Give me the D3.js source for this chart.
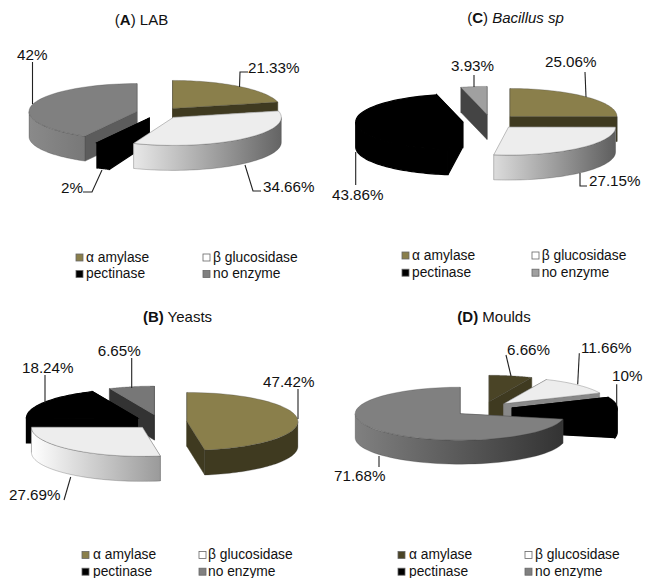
<!DOCTYPE html>
<html>
<head>
<meta charset="utf-8">
<script src="https://cdn.jsdelivr.net/npm/d3@7"></script>
<style>
  html, body { margin: 0; padding: 0; background: #fff; }
  svg { display: block; }
  text { font-family: "Liberation Sans", Arial, sans-serif; fill: #111; }
</style>
</head>
<body>
<svg id="chart" width="649" height="578"></svg>
<script>
// Enzyme categories, shared by all four panels
const enzymes = ["α amylase", "β glucosidase", "pectinase", "no enzyme"];

// Share of isolates per enzyme (%)
const labValues = [21.33, 34.66, 2, 42];
const bacillusValues = [25.06, 27.15, 43.86, 3.93];
const yeastValues = [47.42, 27.69, 18.24, 6.65];
const mouldValues = [6.66, 11.66, 10, 71.68];

// Printed data labels
const labLabels = ["21.33%", "34.66%", "2%", "42%"];
const bacillusLabels = ["25.06%", "27.15%", "43.86%", "3.93%"];
const yeastLabels = ["47.42%", "27.69%", "18.24%", "6.65%"];
const mouldLabels = ["6.66%", "11.66%", "10%", "71.68%"];

const KHAKI = "#8a7f4b", OLIVE = "#3f3a20", PALE = "#ededed", GREY = "#808080";

// Panel geometry and styling
const panels = [
  {
    bold: "A", boldParens: false, name: " LAB", titleX: 141.5, titleY: 25,
    values: labValues, labels: labLabels,
    cx: 158.7, cy: 113, rx: 108, ry: 28, depth: 25, explode: 22.4,
    order: [3, 0, 2, 1],
    top: [KHAKI, PALE, "#000", GREY],
    side: [OLIVE, "#e6e6e6", "#000", "#5c5c5c"],
    wall: [[OLIVE, OLIVE], ["#e8e8e8", "#646464"], ["#000", "#000"], ["#8a8a8a", "#787878"]],
    labelPos: [[248, 73], [263, 191.5], [61, 193], [17, 59.5]],
    leaders: [
      [[248, 72], [240, 72], [239.5, 87]],
      [[245, 165], [253, 191], [261, 191]],
      [[102, 170], [92, 192], [83, 192]],
      [[32.5, 62], [32.5, 104]]
    ],
    legend: { x1: 76, x2: 203, text1: 86, text2: 213, y1: 261.5, y2: 278,
              colors: [KHAKI, "#fff", "#000", GREY] }
  },
  {
    bold: "C", boldParens: false, name: null, italic: "Bacillus sp", titleX: 515.5, titleY: 23,
    values: bacillusValues, labels: bacillusLabels,
    cx: 490.4, cy: 121.6, rx: 107, ry: 28, depth: 25, explode: 27.7,
    order: [3, 0, 2, 1],
    top: [KHAKI, PALE, "#000", "#a0a0a0"],
    side: [OLIVE, "#e6e6e6", "#000", "#444"],
    wall: [[OLIVE, OLIVE], ["#dcdcdc", "#5e5e5e"], ["#000", "#000"], ["#444", "#444"]],
    labelPos: [[545, 67], [589, 186], [332, 200], [451, 71]],
    leaders: [
      [[585, 72], [586, 97]],
      [[580, 173], [580, 186], [587, 186]],
      [[355.7, 152], [355.7, 185]],
      [[474, 75], [474, 87]]
    ],
    legend: { x1: 402, x2: 532, text1: 412, text2: 541.7, y1: 259.5, y2: 276.7,
              colors: [KHAKI, "#fff", "#000", "#a0a0a0"] }
  },
  {
    bold: "B", boldParens: true, name: " Yeasts", titleX: 177.5, titleY: 321.7,
    values: yeastValues, labels: yeastLabels,
    cx: 160, cy: 422, rx: 111, ry: 29, depth: 25, explode: 27,
    order: [3, 2, 0, 1],
    top: [KHAKI, PALE, "#000", "#777"],
    side: [OLIVE, "#a0a0a0", "#000", "#333"],
    wall: [[OLIVE, OLIVE], ["#ffffff", "#9a9a9a"], ["#000", "#000"], ["#333", "#333"]],
    labelPos: [[263, 386.7], [9, 500], [22, 372.7], [97.7, 356]],
    leaders: [
      [[298, 389], [298, 419]],
      [[70.7, 477], [64, 500]],
      [[45, 375], [45, 403]],
      [[131.7, 358], [131.7, 388]]
    ],
    legend: { x1: 82, x2: 199, text1: 93, text2: 208, y1: 559, y2: 575.7,
              colors: [KHAKI, "#fff", "#000", GREY] }
  },
  {
    bold: "D", boldParens: true, name: " Moulds", titleX: 494, titleY: 322,
    values: mouldValues, labels: mouldLabels,
    cx: 483, cy: 409, rx: 105, ry: 26.5, depth: 24, explode: 29.4,
    order: [0, 1, 2, 3],
    top: ["#4a4426", PALE, "#000", GREY],
    side: ["#3f3a20", "#888", "#000", "#5a5a5a"],
    wall: [[OLIVE, OLIVE], ["#888", "#888"], ["#000", "#000"], ["#808080", "#333"]],
    labelPos: [[507, 355], [581, 353.3], [612, 380.7], [334, 480.7]],
    leaders: [
      [[506, 355], [511, 376]],
      [[579.3, 353.3], [577.7, 384.3]],
      [[616.7, 384.3], [616.7, 405]],
      [[379, 456], [379, 467]]
    ],
    legend: { x1: 398, x2: 525, text1: 409, text2: 535, y1: 559, y2: 575.7,
              colors: ["#4a4426", "#fff", "#000", GREY] }
  }
];

const svg = d3.select("#chart");
const defs = svg.append("defs");
const pie = d3.pie().sort(null).startAngle(0).endAngle(2 * Math.PI);
const polygon = d3.line();
const HALF_PI = Math.PI / 2;
const EDGE = "#3a3a3a";

panels.forEach((p, pi) => {
  const g = svg.append("g");
  const arcs = pie(p.values);

  // Projected ellipse around a slice's own apex
  const rim = (apex, a, drop = 0) => [
    apex[0] + p.rx * Math.sin(a),
    apex[1] - p.ry * Math.cos(a) + drop
  ];
  const arcPoints = (apex, a0, a1, drop = 0) =>
    d3.range(0, 49).map(i => rim(apex, a0 + (a1 - a0) * i / 48, drop));

  // Back-to-front painting order
  p.order.forEach(si => {
    const arc = arcs[si];
    const mid = (arc.startAngle + arc.endAngle) / 2;
    const apex = [
      p.cx + p.explode * Math.sin(mid),
      p.cy - p.explode * (p.ry / p.rx) * Math.cos(mid)
    ];
    const slice = g.append("g");
    // The black pectinase slice reads as one solid shape, without inner edges
    const isSolid = p.top[si] === "#000";
    const edgeColor = isSolid ? "#000" : EDGE;
    const edgeOpacity = isSolid ? 1 : 0.45;
    const edgeWidth = isSolid ? 1.2 : 0.6;

    // Cut faces running from the apex to the rim
    [arc.startAngle, arc.endAngle].forEach(a => {
      const outer = rim(apex, a);
      slice.append("path")
        .attr("d", polygon([apex, outer, [outer[0], outer[1] + p.depth], [apex[0], apex[1] + p.depth]]) + "Z")
        .attr("fill", p.side[si])
        .attr("stroke", p.side[si])
        .attr("stroke-width", isSolid ? edgeWidth : 0.5);
    });

    // Curved wall, only where it faces the viewer
    const w0 = Math.max(arc.startAngle, HALF_PI);
    const w1 = Math.min(arc.endAngle, 3 * HALF_PI);
    if (w1 > w0) {
      const id = `wall-${pi}-${si}`;
      const grad = defs.append("linearGradient").attr("id", id);
      // Shading runs by screen x across the wall
      grad.append("stop").attr("offset", "0%").attr("stop-color", p.wall[si][0]);
      grad.append("stop").attr("offset", "100%").attr("stop-color", p.wall[si][1]);
      const upper = arcPoints(apex, w0, w1);
      const lower = arcPoints(apex, w1, w0, p.depth);
      slice.append("path")
        .attr("d", polygon(upper.concat(lower)) + "Z")
        .attr("fill", isSolid ? "#000" : `url(#${id})`)
        .attr("stroke", edgeColor)
        .attr("stroke-opacity", edgeOpacity)
        .attr("stroke-width", edgeWidth);
    }

    // Top face
    slice.append("path")
      .attr("d", polygon([apex].concat(arcPoints(apex, arc.startAngle, arc.endAngle))) + "Z")
      .attr("fill", p.top[si])
      .attr("stroke", edgeColor)
      .attr("stroke-opacity", edgeOpacity)
      .attr("stroke-width", edgeWidth);
  });

  // Leader lines
  p.leaders.forEach(pts => {
    g.append("path")
      .attr("d", polygon(pts))
      .attr("fill", "none")
      .attr("stroke", "#222")
      .attr("stroke-width", 1.1);
  });

  // Data labels
  g.selectAll("text.value")
    .data(p.labels)
    .join("text")
    .attr("class", "value")
    .attr("x", (d, i) => p.labelPos[i][0])
    .attr("y", (d, i) => p.labelPos[i][1])
    .attr("font-size", 15.2)
    .text(d => d);

  // Panel title
  const title = g.append("text")
    .attr("x", p.titleX)
    .attr("y", p.titleY)
    .attr("text-anchor", "middle")
    .attr("font-size", 15);
  if (p.boldParens) {
    title.append("tspan").attr("font-weight", "bold").text(`(${p.bold})`);
  } else {
    title.append("tspan").text("(");
    title.append("tspan").attr("font-weight", "bold").text(p.bold);
    title.append("tspan").text(")");
  }
  if (p.italic) {
    title.append("tspan").text(" ");
    title.append("tspan").attr("font-style", "italic").text(p.italic);
  } else {
    title.append("tspan").text(p.name);
  }

  // Legend, two rows of two
  const L = p.legend;
  enzymes.forEach((name, i) => {
    const swatchX = i % 2 ? L.x2 : L.x1;
    const textX = i % 2 ? L.text2 : L.text1;
    const y = i < 2 ? L.y1 : L.y2;
    g.append("rect")
      .attr("x", swatchX)
      .attr("y", y - 7.5)
      .attr("width", 7)
      .attr("height", 7)
      .attr("fill", L.colors[i])
      .attr("stroke", "#666")
      .attr("stroke-width", 0.8);
    g.append("text")
      .attr("x", textX)
      .attr("y", y)
      .attr("font-size", 13.8)
      .text(name);
  });
});
</script>
</body>
</html>
